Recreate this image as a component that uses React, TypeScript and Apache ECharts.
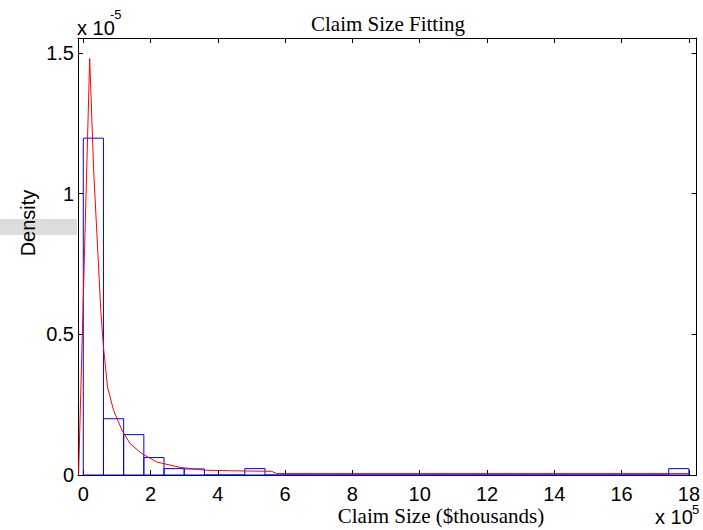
import React, { useEffect, useRef } from "react";
import * as echarts from "echarts";

// Histogram bins (x in units of 1e5, density in units of 1e-5)
const binLeft = [0, 0.6, 1.2, 1.8, 2.4, 3.0, 3.6, 4.2, 4.8, 5.4, 6.0, 6.6, 7.2, 7.8, 8.4, 9.0, 9.6, 10.2, 10.8, 11.4, 12.0, 12.6, 13.2, 13.8, 14.4, 15.0, 15.6, 16.2, 16.8, 17.4];
const binRight = [0.6, 1.2, 1.8, 2.4, 3.0, 3.6, 4.2, 4.8, 5.4, 6.0, 6.6, 7.2, 7.8, 8.4, 9.0, 9.6, 10.2, 10.8, 11.4, 12.0, 12.6, 13.2, 13.8, 14.4, 15.0, 15.6, 16.2, 16.8, 17.4, 18.0];
const binDensity = [1.197, 0.2, 0.1435, 0.062, 0.0227, 0.0215, 0, 0, 0.0227, 0, 0, 0, 0, 0, 0, 0, 0, 0, 0, 0, 0, 0, 0, 0, 0, 0, 0, 0, 0, 0.0227];

// Fitted density curve
const fitX = [-0.14, 0.19, 0.31, 0.52, 0.6, 0.72, 0.9, 1.15, 1.39, 1.74, 2.19, 2.88, 3.62, 4.4, 5.0, 5.6, 5.75, 18.0];
const fitY = [0, 1.48, 1.08, 0.585, 0.455, 0.313, 0.23, 0.159, 0.1115, 0.076, 0.046, 0.027, 0.017, 0.015, 0.014, 0.013, 0.005, 0.005];

const xTicks = [0, 2, 4, 6, 8, 10, 12, 14, 16, 18];
const yTicks = [0, 0.5, 1, 1.5];

const SANS = "'Liberation Sans', Arial, Helvetica, sans-serif";
const SERIF = "'Liberation Serif', 'Times New Roman', serif";

export default function App() {
  const ref = useRef<HTMLDivElement>(null);
  useEffect(() => {
    if (!ref.current) return;
    const chart = echarts.init(ref.current, undefined, { renderer: "svg" });
    const xMin = -0.157;
    const xMax = 18.23;
    const yMin = 0;
    const yMax = 1.553;
    const axisCommon = {
      axisLine: { show: true, onZero: false, lineStyle: { color: "#000", width: 1 } },
      splitLine: { show: false },
    };
    const barData = binLeft.map((l, i) => [l, binRight[i], binDensity[i]]);
    const lineData = fitX.map((x, i) => [x, fitY[i]]);
    chart.setOption({
      animation: false,
      backgroundColor: "#fff",
      grid: { left: 78, right: 5, top: 38, bottom: 55, containLabel: false },
      xAxis: [
        {
          type: "value",
          min: xMin,
          max: xMax,
          position: "bottom",
          ...axisCommon,
          axisTick: { show: true, inside: true, length: 5, customValues: xTicks, lineStyle: { color: "#000" } },
          axisLabel: {
            show: true,
            customValues: xTicks,
            formatter: (v: number) => String(v),
            fontFamily: SANS,
            fontSize: 20,
            color: "#000",
            margin: 9,
          },
        },
        {
          type: "value",
          min: xMin,
          max: xMax,
          position: "top",
          ...axisCommon,
          axisTick: { show: true, inside: true, length: 5, customValues: xTicks, lineStyle: { color: "#000" } },
          axisLabel: { show: false },
        },
      ],
      yAxis: [
        {
          type: "value",
          min: yMin,
          max: yMax,
          position: "left",
          ...axisCommon,
          axisTick: { show: true, inside: true, length: 5, customValues: yTicks, lineStyle: { color: "#000" } },
          axisLabel: {
            show: true,
            customValues: yTicks,
            formatter: (v: number) => String(v),
            fontFamily: SANS,
            fontSize: 20,
            color: "#000",
            margin: 4,
            padding: [6, 0, 0, 0],
          },
        },
        {
          type: "value",
          min: yMin,
          max: yMax,
          position: "right",
          ...axisCommon,
          axisTick: { show: true, inside: true, length: 5, customValues: yTicks, lineStyle: { color: "#000" } },
          axisLabel: { show: false },
        },
      ],
      series: [
        {
          type: "custom",
          xAxisIndex: 0,
          yAxisIndex: 0,
          clip: false,
          data: barData,
          encode: { x: [0, 1], y: 2 },
          renderItem: (params: any, api: any) => {
            const p0 = api.coord([api.value(0), api.value(2)]);
            const p1 = api.coord([api.value(1), 0]);
            return {
              type: "rect",
              shape: { x: p0[0], y: p0[1], width: p1[0] - p0[0], height: p1[1] - p0[1] },
              style: { fill: "none", stroke: "#0000ff", lineWidth: 1 },
            };
          },
          z: 3,
        },
        {
          type: "line",
          xAxisIndex: 0,
          yAxisIndex: 0,
          data: lineData,
          showSymbol: false,
          symbol: "none",
          smooth: false,
          lineStyle: { color: "#ff0000", width: 1 },
          z: 4,
        },
      ],
      graphic: [
        { type: "rect", left: 0, top: 219, shape: { width: 77, height: 16 }, style: { fill: "#dcdcdc" }, z: -1 },
        {
          type: "text",
          x: 388,
          y: 24,
          style: { text: "Claim Size Fitting", font: `21px ${SERIF}`, fill: "#000", textAlign: "center", textVerticalAlign: "middle" },
        },
        {
          type: "text",
          x: 441,
          y: 516,
          style: { text: "Claim Size ($thousands)", font: `21px ${SERIF}`, fill: "#000", textAlign: "center", textVerticalAlign: "middle" },
        },
        {
          type: "text",
          x: 28,
          y: 223,
          rotation: Math.PI / 2,
          style: { text: "Density", font: `20px ${SANS}`, fill: "#000", textAlign: "center", textVerticalAlign: "middle" },
        },
        {
          type: "text",
          x: 77,
          y: 28,
          style: { text: "x 10", font: `20px ${SANS}`, fill: "#000", textAlign: "left", textVerticalAlign: "middle" },
        },
        {
          type: "text",
          x: 110,
          y: 14,
          style: { text: "-5", font: `13px ${SANS}`, fill: "#000", textAlign: "left", textVerticalAlign: "middle" },
        },
        {
          type: "text",
          x: 655,
          y: 517,
          style: { text: "x 10", font: `20px ${SANS}`, fill: "#000", textAlign: "left", textVerticalAlign: "middle" },
        },
        {
          type: "text",
          x: 692,
          y: 509,
          style: { text: "5", font: `13px ${SANS}`, fill: "#000", textAlign: "left", textVerticalAlign: "middle" },
        },
      ],
    });
    return () => chart.dispose();
  }, []);
  return <div ref={ref} style={{ width: 703, height: 530, position: "absolute", left: 0, top: 0 }} />;
}
